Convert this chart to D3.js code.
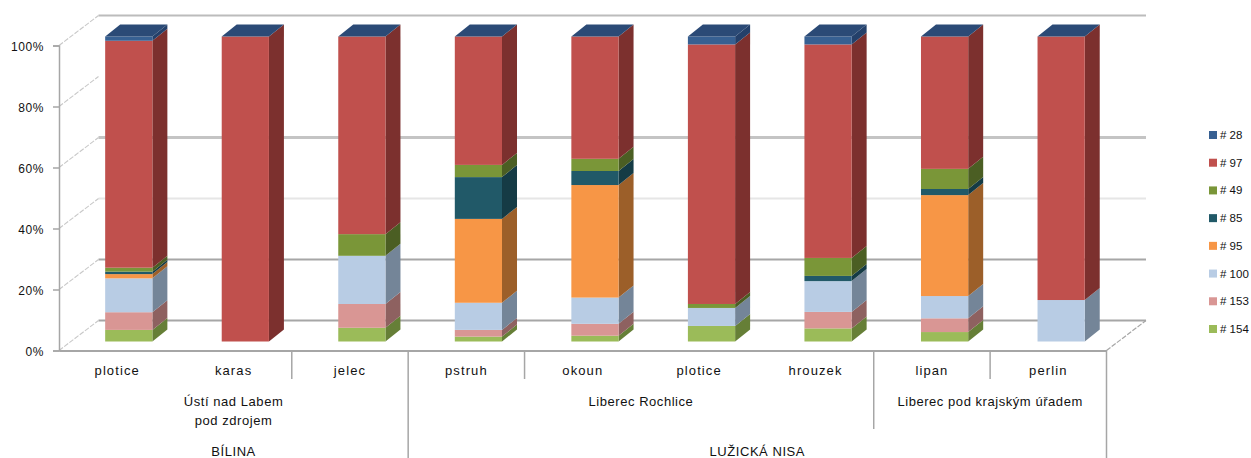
<!DOCTYPE html>
<html>
<head>
<meta charset="utf-8">
<style>
  html, body { margin: 0; padding: 0; background: #fff; overflow: hidden; }
  svg { display: block; }
  text { font-family: "Liberation Sans", sans-serif; font-size: 13px; fill: #111; letter-spacing: 0.55px; }
  .y-axis text { font-size: 12px; letter-spacing: 0.55px; }
  .x-axis text { font-size: 13px; letter-spacing: 1.1px; }
  .legend text { font-size: 11.5px; letter-spacing: 0; }
</style>
<script src="https://cdn.jsdelivr.net/npm/d3@7"></script>
</head>
<body>
<svg id="chart" width="1251" height="458"></svg>
<script>
// Fish species along the sampled sites, share of each isolate per species.
const categories = ["plotice", "karas", "jelec", "pstruh", "okoun", "plotice", "hrouzek", "lipan", "perlin"];
const seriesNames = ["# 154", "# 153", "# 100", "# 95", "# 85", "# 49", "# 97", "# 28"];

const s154 = [3.8, 0, 4.5, 1.6, 1.9, 5.1, 4.3, 3.1, 0];
const s153 = [5.8, 0, 7.8, 2.2, 3.9, 0, 5.4, 4.5, 0];
const s100 = [11.1, 0, 15.8, 8.9, 8.6, 5.9, 10.1, 7.3, 13.6];
const s95 = [1.4, 0, 0, 27.5, 36.9, 0, 0, 33.1, 0];
const s85 = [0.8, 0, 0, 13.7, 4.6, 0, 1.7, 2.0, 0];
const s49 = [1.3, 0, 7.1, 4.0, 4.0, 1.3, 5.9, 6.6, 0];
const s97 = [74.4, 100, 64.8, 42.1, 40.1, 85.1, 70.0, 43.4, 86.4];
const s28 = [1.4, 0, 0, 0, 0, 2.6, 2.6, 0, 0];
const seriesValues = [s154, s153, s100, s95, s85, s49, s97, s28];

const frontColors = ["#9bbb59", "#d99694", "#b8cce4", "#f79646", "#215968", "#7a9638", "#c0504d", "#376092"];
const sideColors = ["#667f37", "#8e6160", "#748598", "#9c5f29", "#153b45", "#4b5e23", "#7c302e", "#24406a"];
const topColor = "#2b4a76";

const yTicks = [0, 20, 40, 60, 80, 100];
// Rivers and sites span ranges of categories: [first, end].
const siteGroups = [
  { lines: ["Ústí nad Labem", "pod zdrojem"], span: [0, 3] },
  { lines: ["Liberec Rochlice"], span: [3, 7] },
  { lines: ["Liberec  pod krajským úřadem"], span: [7, 9] }
];
const riverGroups = [
  { name: "BÍLINA", span: [0, 3] },
  { name: "LUŽICKÁ NISA", span: [3, 9] }
];
const shortDividers = [2, 4, 8];
const midDividers = [7];
const longDividers = [3, 9];

// Back-wall gridline look per tick, as the rendered chart weights them.
const wallStroke = { 0: ["#a6a6a6", 2], 20: ["#a6a6a6", 2], 40: ["#e6e6e6", 2], 60: ["#c4c4c4", 3], 80: ["none", 0], 100: ["#bcbcbc", 2] };

const svg = d3.select("#chart");

// Oblique projection: front axis plane, bar plane, and back wall plane.
const axisLeftX = 59, axisRightX = 1106.5;
const wall = { dx: 39.5, dy: -30 };
const barPlane = { dx: 11.5, dy: -9 };
const barDepth = { dx: 15, dy: -12 };

const xAxisScale = d3.scaleBand().domain(d3.range(categories.length)).range([axisLeftX, axisRightX]);
const xBar = d3.scaleBand().domain(d3.range(categories.length))
  .range([axisLeftX + barPlane.dx, axisRightX + barPlane.dx + 1.4]).paddingInner(0.595).paddingOuter(0.2975);
const yAxisScale = d3.scaleLinear().domain([0, 100]).range([350.5, 45.5]);
const yBar = v => yAxisScale(v) + barPlane.dy;
const edge = i => axisLeftX + i * xAxisScale.step();

// Back wall gridlines and the floor's two slanted edges.
const grid = svg.append("g");
yTicks.forEach(t => {
  const [color, w] = wallStroke[t];
  if (w > 0) {
    grid.append("line")
      .attr("x1", axisLeftX + wall.dx).attr("x2", axisRightX + wall.dx)
      .attr("y1", yAxisScale(t) + wall.dy).attr("y2", yAxisScale(t) + wall.dy)
      .attr("stroke", color).attr("stroke-width", w);
  }
  grid.append("line")
    .attr("x1", axisLeftX).attr("x2", axisLeftX + wall.dx)
    .attr("y1", yAxisScale(t)).attr("y2", yAxisScale(t) + wall.dy)
    .attr("stroke", "#c8c8c8").attr("stroke-width", 1.1).attr("stroke-dasharray", "5 1.5");
});
grid.append("line")
  .attr("x1", axisRightX).attr("x2", axisRightX + wall.dx)
  .attr("y1", yAxisScale(0)).attr("y2", yAxisScale(0) + wall.dy)
  .attr("stroke", "#a6a6a6").attr("stroke-width", 1.2).attr("stroke-dasharray", "5 1.5");

// Stacked bars: each segment has a front face and a side face; the top is one cap.
const rows = categories.map((c, i) => {
  const row = { i };
  seriesNames.forEach((n, k) => { row[n] = seriesValues[k][i]; });
  return row;
});
const stacked = d3.stack().keys(seriesNames)(rows);

const bars = svg.append("g");
stacked.forEach((layer, k) => {
  const g = bars.append("g");
  const visible = layer.filter(d => d[1] - d[0] > 0);
  g.selectAll("polygon").data(visible).join("polygon")
    .attr("fill", sideColors[k])
    .attr("points", d => {
      const x = xBar(d.data.i) + xBar.bandwidth();
      return [[x, yBar(d[0])], [x + barDepth.dx, yBar(d[0]) + barDepth.dy],
              [x + barDepth.dx, yBar(d[1]) + barDepth.dy], [x, yBar(d[1])]].join(" ");
    });
  g.selectAll("rect").data(visible).join("rect")
    .attr("x", d => xBar(d.data.i))
    .attr("width", xBar.bandwidth())
    .attr("y", d => yBar(d[1]))
    .attr("height", d => yBar(d[0]) - yBar(d[1]))
    .attr("fill", frontColors[k]);
});
bars.append("g").selectAll("polygon").data(rows).join("polygon")
  .attr("fill", topColor)
  .attr("points", d => {
    const x = xBar(d.i), w = xBar.bandwidth(), y = yBar(100);
    return [[x, y], [x + w, y], [x + w + barDepth.dx, y + barDepth.dy], [x + barDepth.dx, y + barDepth.dy]].join(" ");
  });

// Value axis.
const yAxis = d3.axisLeft(yAxisScale).tickValues(yTicks).tickFormat(d => d + "%").tickSize(6).tickPadding(9);
const yG = svg.append("g").attr("class", "y-axis").attr("transform", `translate(${axisLeftX},0)`).call(yAxis);
yG.selectAll("path, line").attr("stroke", "#a6a6a6").attr("stroke-width", 1.5);
yG.selectAll(".tick text").attr("dy", "0.45em");

// Category axis with its multi-level labels.
const xAxis = d3.axisBottom(xAxisScale).tickFormat(i => categories[i]).tickSize(0).tickPadding(23);
const xG = svg.append("g").attr("class", "x-axis").attr("transform", `translate(0,${yAxisScale(0)})`).call(xAxis);
xG.select("path").attr("stroke", "#a6a6a6").attr("stroke-width", 2);
xG.selectAll(".tick text").attr("dy", "0.1em");

const dividers = svg.append("g").attr("stroke", "#a6a6a6").attr("stroke-width", 1.5);
const addDividers = (list, bottom) => list.forEach(i => dividers.append("line")
  .attr("x1", edge(i)).attr("x2", edge(i))
  .attr("y1", yAxisScale(0)).attr("y2", bottom));
addDividers(shortDividers, 379);
addDividers(midDividers, 429);
addDividers(longDividers, 458);

const labels = svg.append("g").attr("text-anchor", "middle");
siteGroups.forEach(g => {
  const cx = (edge(g.span[0]) + edge(g.span[1])) / 2;
  g.lines.forEach((line, j) => labels.append("text")
    .attr("x", cx).attr("y", 405.5 + j * 19).text(line));
});
riverGroups.forEach(g => {
  labels.append("text")
    .attr("x", (edge(g.span[0]) + edge(g.span[1])) / 2).attr("y", 455.5).text(g.name);
});

// Legend, top of the stack first.
const legendOrder = seriesNames.map((n, k) => ({ n, k })).reverse();
const yLegend = d3.scalePoint().domain(legendOrder.map(d => d.n)).range([135, 329]);
const legend = svg.append("g").attr("class", "legend").selectAll("g").data(legendOrder).join("g")
  .attr("transform", d => `translate(1209,${yLegend(d.n)})`);
legend.append("rect").attr("y", -4).attr("width", 8).attr("height", 8).attr("fill", d => frontColors[d.k]);
legend.append("text").attr("x", 11).attr("y", 4).text(d => d.n);
</script>
</body>
</html>
